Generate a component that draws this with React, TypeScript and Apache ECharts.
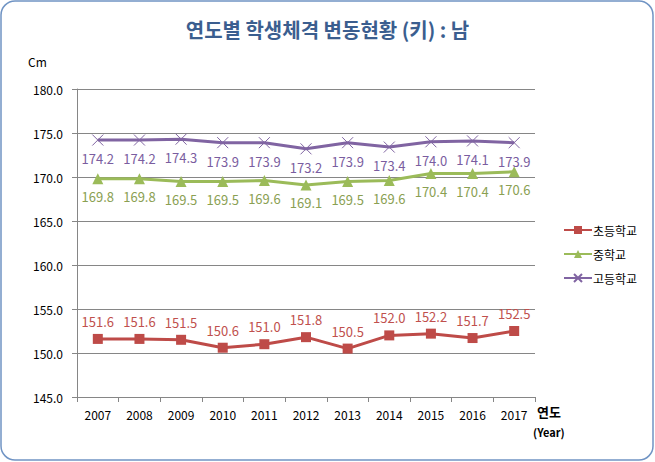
import React, { useEffect, useRef } from "react";
import * as echarts from "echarts";

const years = ["2007", "2008", "2009", "2010", "2011", "2012", "2013", "2014", "2015", "2016", "2017"];
const elementary = [151.6, 151.6, 151.5, 150.6, 151.0, 151.8, 150.5, 152.0, 152.2, 151.7, 152.5];
const middle = [169.8, 169.8, 169.5, 169.5, 169.6, 169.1, 169.5, 169.6, 170.4, 170.4, 170.6];
const high = [174.2, 174.2, 174.3, 173.9, 173.9, 173.2, 173.9, 173.4, 174.0, 174.1, 173.9];
const seriesNames = ["초등학교", "중학교", "고등학교"];

const FONT = "'Noto Sans CJK KR', 'Noto Sans', sans-serif";

export default function App() {
  const ref = useRef<HTMLDivElement>(null);
  useEffect(() => {
    if (!ref.current) return;
    const chart = echarts.init(ref.current, null, { renderer: "svg" });
    const lbl = (color: string, pos: string) => ({
      show: true,
      position: pos,
      distance: 6,
      color,
      fontSize: 13,
      fontFamily: FONT,
      formatter: (p: any) => Number(p.value).toFixed(1),
    });
    chart.setOption({
      animation: false,
      backgroundColor: "#ffffff",
      textStyle: { fontFamily: FONT },
      title: {
        text: "연도별 학생체격 변동현황 (키) : 남",
        left: "center",
        top: 14,
        textStyle: { fontSize: 20, fontWeight: "bold", color: "#3B5E8F", fontFamily: FONT },
      },
      graphic: [
        {
          type: "rect",
          shape: { x: 1, y: 1, width: 652, height: 459, r: 14 },
          style: { fill: "none", stroke: "#7094C4", lineWidth: 1.5 },
          silent: true,
        },
        {
          type: "text",
          left: 28,
          top: 55,
          style: { text: "Cm", fill: "#000", font: "12px " + FONT },
        },
        {
          type: "text",
          left: 537,
          top: 405,
          style: { text: "연도", fill: "#000", font: "bold 13px " + FONT },
        },
        {
          type: "text",
          left: 533,
          top: 426,
          style: { text: "(Year)", fill: "#000", font: "bold 11px " + FONT },
        },
      ],
      legend: {
        orient: "vertical",
        left: 558,
        top: 219,
        itemGap: 12,
        itemWidth: 28,
        itemHeight: 10,
        textStyle: { fontSize: 12, color: "#000", fontFamily: FONT, padding: [0, 0, 0, -4] },
        data: seriesNames,
      },
      grid: { left: 77, right: 120, top: 89, bottom: 65 },
      xAxis: {
        type: "category",
        data: years,
        boundaryGap: true,
        axisLine: { lineStyle: { color: "#868686" } },
        axisTick: { show: true, length: 5, inside: false, alignWithLabel: false, lineStyle: { color: "#868686" } },
        axisLabel: { color: "#000", fontSize: 12, margin: 11, fontFamily: FONT },
      },
      yAxis: {
        type: "value",
        min: 145,
        max: 180,
        interval: 5,
        axisLine: { show: true, lineStyle: { color: "#868686" } },
        axisTick: { show: true, length: 5, lineStyle: { color: "#868686" } },
        axisLabel: {
          color: "#000",
          fontSize: 12,
          margin: 14,
          fontFamily: FONT,
          formatter: (v: number) => v.toFixed(1),
        },
        splitLine: { lineStyle: { color: "#868686" } },
      },
      series: [
        {
          name: seriesNames[0],
          type: "line",
          data: elementary,
          symbol: "rect",
          symbolSize: 10,
          lineStyle: { color: "#BE4B48", width: 3 },
          itemStyle: { color: "#BE4B48" },
          label: lbl("#C0504D", "top"),
        },
        {
          name: seriesNames[1],
          type: "line",
          data: middle,
          symbol: "triangle",
          symbolSize: 11,
          lineStyle: { color: "#9BBB59", width: 3 },
          itemStyle: { color: "#9BBB59" },
          label: lbl("#8AA052", "bottom"),
        },
        {
          name: seriesNames[2],
          type: "line",
          data: high,
          symbol: "path://M0,0L10,10M10,0L0,10",
          symbolSize: 11,
          lineStyle: { color: "#8064A2", width: 3 },
          itemStyle: { color: "#8064A2", borderColor: "#8064A2", borderWidth: 1 },
          label: lbl("#7A5DA0", "bottom"),
        },
      ],
    });
    return () => chart.dispose();
  }, []);
  return (
    <div
      ref={ref}
      style={{ position: "fixed", left: 0, top: 0, width: 655, height: 462 }}
    />
  );
}
